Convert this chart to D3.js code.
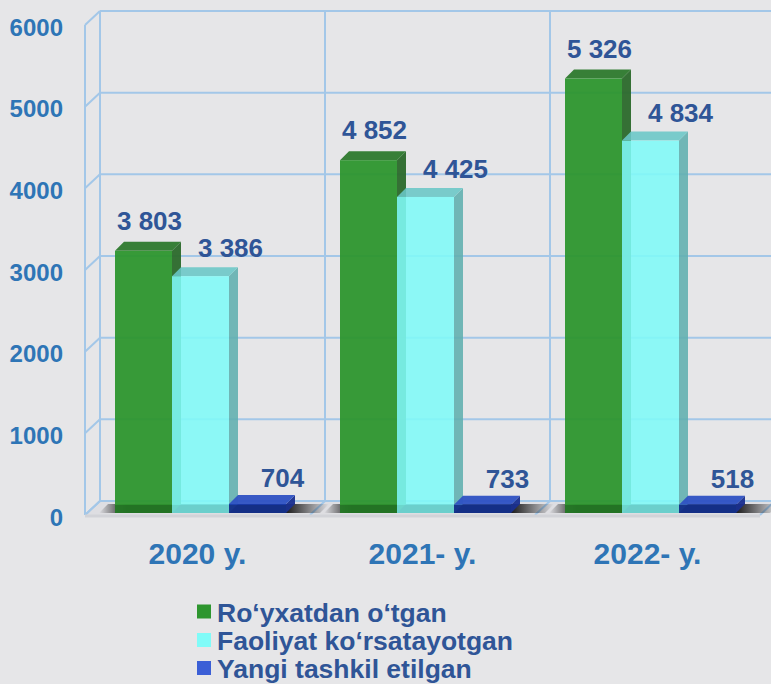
<!DOCTYPE html>
<html>
<head>
<meta charset="utf-8">
<script src="https://cdn.jsdelivr.net/npm/d3@7"></script>
<style>
  body { margin: 0; background: #e6e6e8; }
  svg { display: block; font-family: "Liberation Sans", Arial, sans-serif; font-weight: bold; }
</style>
</head>
<body>
<script>
// categories and series
var categories = ["2020 y.", "2021- y.", "2022- y."];
var seriesNames = ["Ro‘yxatdan o‘tgan", "Faoliyat ko‘rsatayotgan", "Yangi tashkil etilgan"];

// printed value labels
var registered = [3803, 4852, 5326];
var active = [3386, 4425, 4834];
var newlyCreated = [704, 733, 518];

// bar heights as they are drawn in the picture (they do not follow the labels)
var registeredBar = [3210, 4320, 5320];
var activeBar = [2900, 3870, 4560];
var newlyCreatedBar = [110, 100, 100];

var yTicks = [0, 1000, 2000, 3000, 4000, 5000, 6000];

var W = 771, H = 684;
var depth = { dx: 15, dy: -14 };   // wall depth
var barDepth = { dx: 9, dy: -9 };  // bar depth

var colors = [
  { front: "#2e962f", top: "#2e7a2e", side: "#2c6a2c", legend: "#2e962f" },
  { front: "#80fbf8", top: "#6ac8c8", side: "#60b0b0", legend: "#80fbf8" },
  { front: "#1a3cb0", top: "#2f52c4", side: "#1a3090", legend: "#3b5fd6" }
];

var series = [registeredBar, activeBar, newlyCreatedBar];
var labels = [registered, active, newlyCreated];
var labelOffset = [{ dx: 6, dy: -21 }, { dx: 30, dy: -19 }, { dx: 25, dy: -17 }];

var fmt = function(v) { return d3.format(",")(v).replace(/,/g, " "); };

var svg = d3.select("body").append("svg")
    .attr("width", W)
    .attr("height", H);

var x = d3.scaleBand().domain(categories).range([85, 760]);
var xInner = d3.scaleBand().domain(d3.range(3)).range([30, 201]);
var y = d3.scaleLinear().domain([0, 6000]).range([515, 25]);
var yBar = d3.scaleLinear().domain([0, 6000]).range([513, 23]);

var gridColor = "#a3c7e8";
var grid = svg.append("g").attr("stroke", gridColor).attr("stroke-width", 2).attr("fill", "none");

// floor
svg.insert("path", "g")
    .attr("d", "M85," + y(0) + "L760," + y(0) + "L" + (760 + depth.dx) + "," + (y(0) + depth.dy) +
        "L" + (85 + depth.dx) + "," + (y(0) + depth.dy) + "Z")
    .attr("fill", "#dedee2");

// back wall horizontal lines
grid.selectAll(".hline").data(yTicks).enter().append("line")
    .attr("x1", 85 + depth.dx).attr("x2", W + 5)
    .attr("y1", function(d) { return y(d) + depth.dy; })
    .attr("y2", function(d) { return y(d) + depth.dy; });

// left wall diagonals
grid.selectAll(".ldiag").data(yTicks).enter().append("line")
    .attr("x1", 85).attr("x2", 85 + depth.dx)
    .attr("y1", function(d) { return y(d); })
    .attr("y2", function(d) { return y(d) + depth.dy; });

// left wall verticals
grid.append("line").attr("x1", 85).attr("x2", 85).attr("y1", y(0)).attr("y2", y(6000));

// back wall verticals at category boundaries
var bounds = categories.map(function(c) { return x(c); }).concat([x.range()[1]]);
grid.selectAll(".vline").data(bounds).enter().append("line")
    .attr("x1", function(d) { return d + depth.dx; })
    .attr("x2", function(d) { return d + depth.dx; })
    .attr("y1", y(0) + depth.dy).attr("y2", y(6000) + depth.dy);

// floor diagonals
grid.selectAll(".fdiag").data(bounds).enter().append("line")
    .attr("x1", function(d) { return d; })
    .attr("x2", function(d) { return d + depth.dx; })
    .attr("y1", y(0)).attr("y2", y(0) + depth.dy);

// floor front edge
svg.append("line")
    .attr("x1", 85).attr("x2", 760).attr("y1", y(0) + 1).attr("y2", y(0) + 1)
    .attr("stroke", "#d2d3d8").attr("stroke-width", 3);

// shadow gradient
var defs = svg.append("defs");
var sg = defs.append("linearGradient").attr("id", "shadow");
sg.append("stop").attr("offset", "0%").attr("stop-color", "#000").attr("stop-opacity", 0);
sg.append("stop").attr("offset", "12%").attr("stop-color", "#000").attr("stop-opacity", 0.85);
sg.append("stop").attr("offset", "82%").attr("stop-color", "#000").attr("stop-opacity", 0.85);
sg.append("stop").attr("offset", "100%").attr("stop-color", "#000").attr("stop-opacity", 0);

var bw = xInner.bandwidth();

categories.forEach(function(cat, ci) {
    var gx = x(cat);
    var x0 = gx + xInner(0) - 16, x1 = gx + xInner(2) + bw + 34;
    var yb = yBar(0);
    svg.append("path")
        .attr("d", "M" + x0 + "," + yb + "L" + x1 + "," + yb + "L" + (x1 + barDepth.dx) + "," + (yb - 9) +
            "L" + (x0 + barDepth.dx) + "," + (yb - 9) + "Z")
        .attr("fill", "url(#shadow)");
});

// bars
var bars = svg.append("g");
categories.forEach(function(cat, ci) {
    series.forEach(function(s, si) {
        var v = s[ci];
        var bx = x(cat) + xInner(si);
        var top = yBar(v), base = yBar(0);
        var c = colors[si];
        var g = bars.append("g").attr("opacity", si === 1 ? 0.88 : 0.95);
        // side face
        g.append("path")
            .attr("d", "M" + (bx + bw) + "," + top + "L" + (bx + bw + barDepth.dx) + "," + (top + barDepth.dy) +
                "L" + (bx + bw + barDepth.dx) + "," + (base + barDepth.dy) + "L" + (bx + bw) + "," + base + "Z")
            .attr("fill", c.side);
        // top face
        g.append("path")
            .attr("d", "M" + bx + "," + top + "L" + (bx + barDepth.dx) + "," + (top + barDepth.dy) +
                "L" + (bx + bw + barDepth.dx) + "," + (top + barDepth.dy) + "L" + (bx + bw) + "," + top + "Z")
            .attr("fill", c.top);
        // front face
        g.append("rect")
            .attr("x", bx).attr("y", top)
            .attr("width", bw).attr("height", base - top)
            .attr("fill", c.front);
        // darker foot
        g.append("rect")
            .attr("x", bx).attr("y", Math.max(top, base - 8))
            .attr("width", bw).attr("height", Math.min(8, base - top))
            .attr("fill", "#000").attr("opacity", si === 1 ? 0.08 : 0.2);
    });
});

// value labels
var valLabels = svg.append("g")
    .attr("fill", "#2f5597")
    .attr("font-size", "26px")
    .attr("text-anchor", "middle");
categories.forEach(function(cat, ci) {
    series.forEach(function(s, si) {
        var bx = x(cat) + xInner(si);
        valLabels.append("text")
            .attr("x", bx + bw / 2 + labelOffset[si].dx)
            .attr("y", yBar(s[ci]) + labelOffset[si].dy)
            .text(fmt(labels[si][ci]));
    });
});

// y axis labels
var yAxis = d3.axisLeft(y).tickValues(yTicks).tickSize(0).tickPadding(0).tickFormat(d3.format("d"));
var ya = svg.append("g")
    .attr("transform", "translate(63,0)")
    .call(yAxis);
ya.select(".domain").remove();
ya.selectAll("text")
    .attr("fill", "#2e75b6")
    .attr("font-size", "24px")
    .attr("font-family", "Liberation Sans, Arial, sans-serif")
    .attr("font-weight", "bold")
    .attr("dy", "0.42em");

// category labels
var xAxis = d3.axisBottom(x).tickSize(0).tickPadding(0);
var xa = svg.append("g")
    .attr("transform", "translate(0,564)")
    .call(xAxis);
xa.select(".domain").remove();
xa.selectAll("text")
    .attr("fill", "#2e75b6")
    .attr("font-size", "30px")
    .attr("font-family", "Liberation Sans, Arial, sans-serif")
    .attr("font-weight", "bold")
    .attr("y", 0)
    .attr("dy", 0);

// legend
var legend = svg.append("g").attr("transform", "translate(197,0)");
var rows = legend.selectAll(".row").data(seriesNames).enter().append("g")
    .attr("transform", function(d, i) { return "translate(0," + [621.5, 650, 678][i] + ")"; });
rows.append("rect")
    .attr("x", 0).attr("y", -17)
    .attr("width", 14).attr("height", 14)
    .attr("fill", function(d, i) { return colors[i].legend; });
rows.append("text")
    .attr("x", 20)
    .attr("fill", "#2f5597")
    .attr("font-size", "26.5px")
    .text(function(d) { return d; });
</script>
</body>
</html>
